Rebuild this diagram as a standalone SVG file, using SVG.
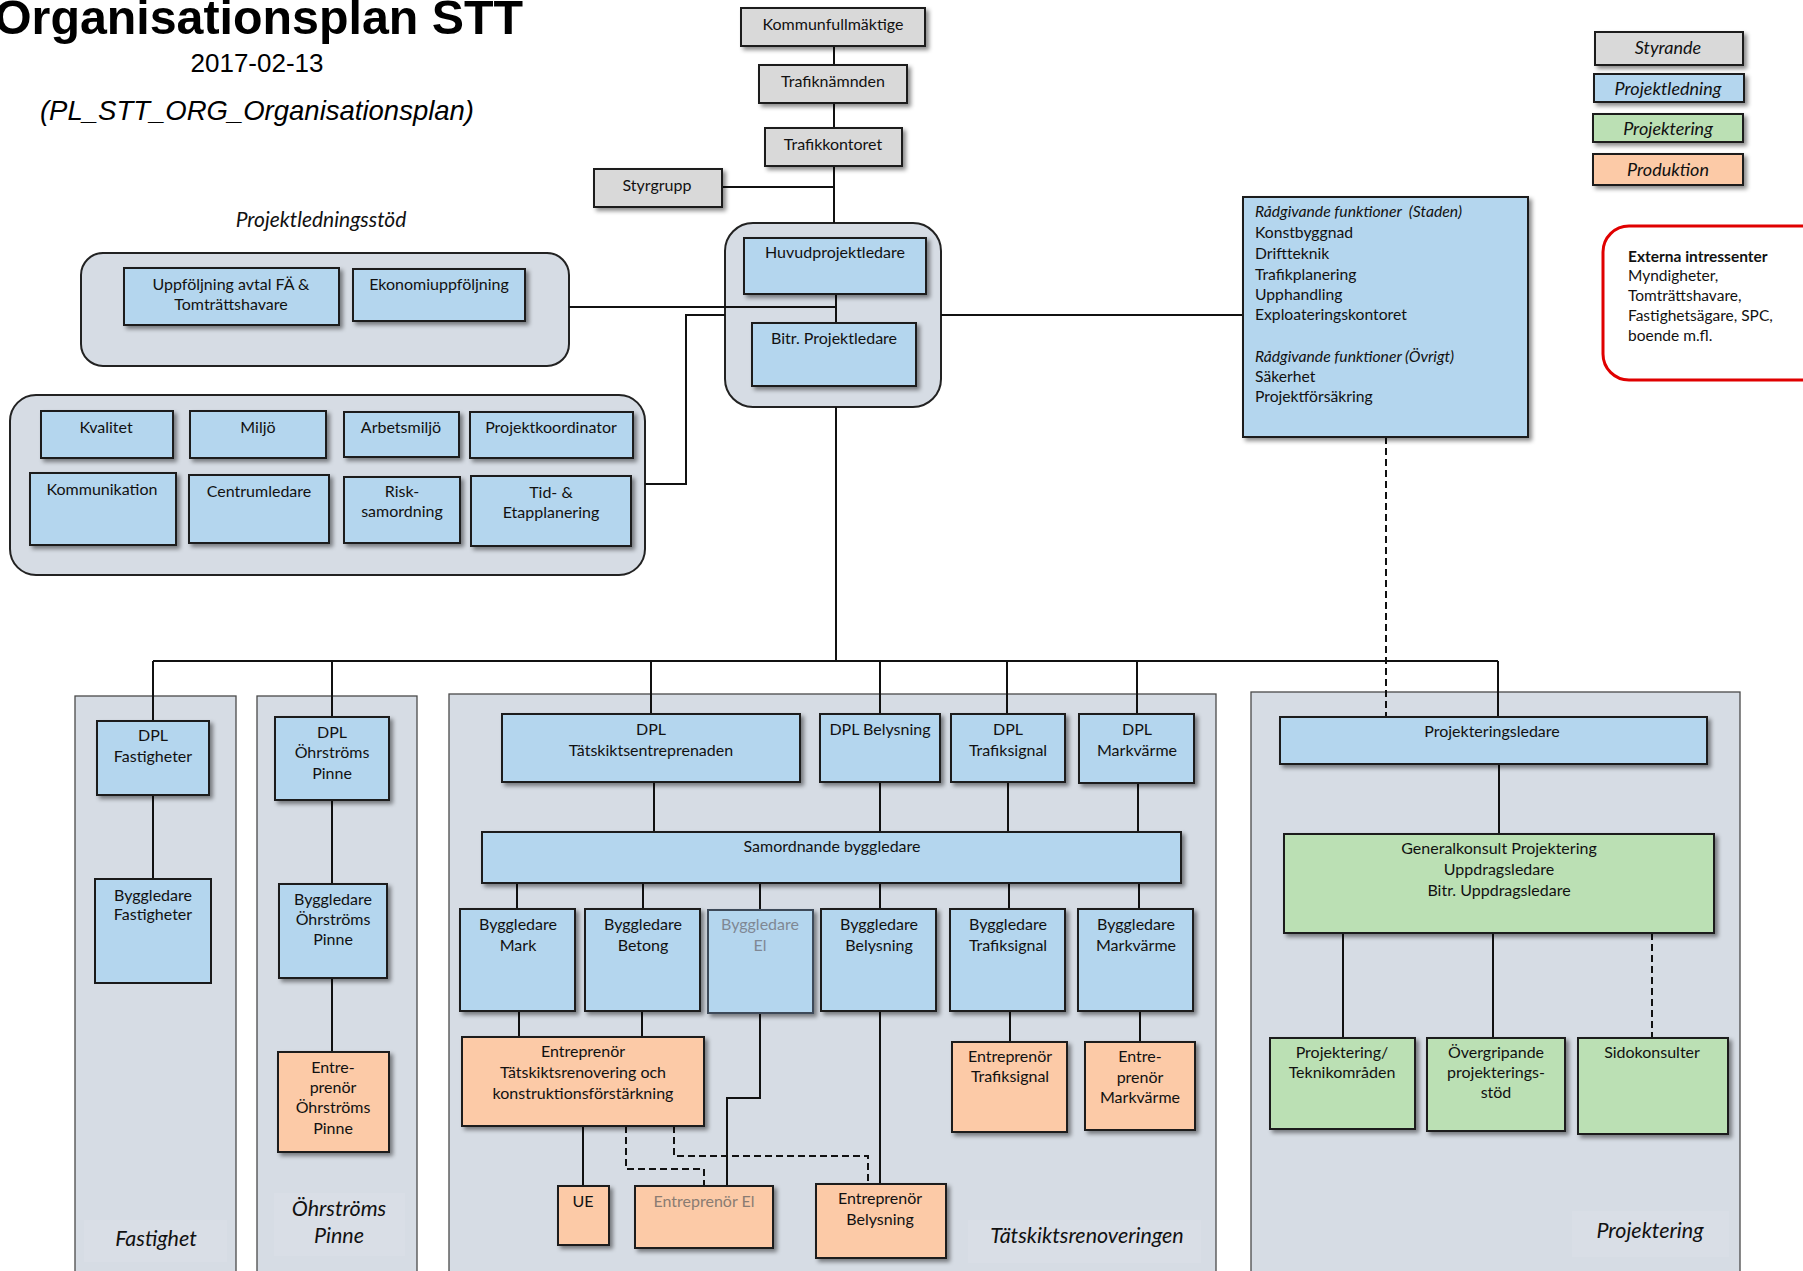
<svg xmlns="http://www.w3.org/2000/svg" width="1803" height="1271" viewBox="0 0 1803 1271">
<defs>
<filter id="sh" x="-10%" y="-10%" width="130%" height="140%">
<feDropShadow dx="3" dy="3" stdDeviation="2" flood-color="#000" flood-opacity="0.45"/>
</filter>
<style>
.g{fill:#d9d9d9}
.b{fill:#b4d6ee}
.gr{fill:#bbe0b4}
.o{fill:#fccaa7}
.box{stroke:#1a1a1a;stroke-width:2;filter:url(#sh)}
.panel{fill:#d6dce4;stroke:#4a4a4a;stroke-width:1.3}
.grp{fill:#d6dce4;stroke:#222;stroke-width:2}
.lbg{fill:#d9dee6}
.t{font-family:Lato,'Open Sans',sans-serif;font-size:16px;fill:#111;text-anchor:middle}
.tl{font-family:Lato,'Open Sans',sans-serif;font-size:15.7px;fill:#111}
.big{font-size:16px}
.i{font-style:italic}
.pl{font-family:Lato,'Open Sans',sans-serif;font-size:21.5px;font-style:italic;fill:#111;text-anchor:middle}
.fade{fill:#7f8894}
.c{stroke:#111;stroke-width:2;fill:none}
.d{stroke-dasharray:7 4}
</style>
</defs>

<g id="title">
<text x="-6" y="34" font-family="'Liberation Sans',Arial,sans-serif" font-weight="bold" font-size="48" textLength="529" lengthAdjust="spacingAndGlyphs" fill="#000">Organisationsplan STT</text>
<text x="257" y="72" font-family="'Liberation Sans',Arial,sans-serif" font-size="26" text-anchor="middle" fill="#000">2017-02-13</text>
<text x="257" y="120" font-family="'Liberation Sans',Arial,sans-serif" font-size="27.5" font-style="italic" text-anchor="middle" fill="#000">(PL_STT_ORG_Organisationsplan)</text>
</g>

<!-- panels -->
<g id="panel-fastighet">
<rect class="panel" x="75" y="696" width="161" height="600"/>
<rect class="lbg" x="84" y="1220" width="143" height="42"/>
<text class="pl" x="156" y="1246">Fastighet</text>
</g>
<g id="panel-ohrstroms">
<rect class="panel" x="257" y="696" width="160" height="600"/>
<rect class="lbg" x="274" y="1193" width="131" height="63"/>
<text class="pl" x="339" y="1216">Öhrströms</text>
<text class="pl" x="339" y="1243">Pinne</text>
</g>
<g id="panel-tatskikt">
<rect class="panel" x="449" y="694" width="767" height="600"/>
<rect class="lbg" x="968" y="1220" width="233" height="43"/>
<text class="pl" x="1087" y="1243">Tätskiktsrenoveringen</text>
</g>
<g id="panel-projektering">
<rect class="panel" x="1251" y="692" width="489" height="600"/>
<rect class="lbg" x="1572" y="1211" width="157" height="46"/>
<text class="pl" x="1650" y="1238">Projektering</text>
</g>

<!-- group containers -->
<g id="grp-projektledningsstod">
<text class="pl" x="321" y="227" style="font-size:21px">Projektledningsstöd</text>
<rect class="grp" x="81" y="253" width="488" height="113" rx="22"/>
</g>
<g id="grp-stod2">
<rect class="grp" x="10" y="395" width="635" height="180" rx="26"/>
</g>
<g id="grp-ledning">
<rect class="grp" x="725" y="223" width="216" height="184" rx="28"/>
</g>

<!-- connectors -->
<g id="connectors">
<path class="c" d="M834 46V65M834 103V128M834 166V223M722 187H834"/>
<path class="c" d="M836 294V323M569 307H836M645 484H686V315H725M941 315H1243"/>
<path class="c" d="M836 407V661M153 661H1498"/>
<path class="c d" d="M1386 437V717"/>
<path class="c" d="M153 661V721M153 795V879"/>
<path class="c" d="M332 661V717M332 800V884M332 978V1052"/>
<path class="c" d="M651 661V714M880 661V714M1007 661V714M1137 661V714"/>
<path class="c" d="M654 782V832M880 782V832M1008 782V832M1138 783V832"/>
<path class="c" d="M517 883V909M643 883V909M760 883V910M880 883V909M1009 883V909M1139 883V909"/>
<path class="c" d="M519 1011V1037M642 1011V1037M583 1126V1186"/>
<path class="c" d="M760 1013V1098H727V1186"/>
<path class="c" d="M880 1011V1184M1010 1011V1042M1140 1011V1042"/>
<path class="c d" d="M626 1126V1169H704V1186M674 1126V1156H868V1184"/>
<path class="c" d="M1498 661V717M1499 764V834M1343 933V1038M1493 933V1038"/>
<path class="c d" d="M1652 933V1038"/>
</g>

<!-- Styrande -->
<g id="n-kommunfullmaktige"><rect class="box g" x="741" y="8" width="184" height="38"/><text class="t big" x="833" y="30">Kommunfullmäktige</text></g>
<g id="n-trafiknamnden"><rect class="box g" x="759" y="65" width="148" height="38"/><text class="t big" x="833" y="87">Trafiknämnden</text></g>
<g id="n-trafikkontoret"><rect class="box g" x="765" y="128" width="137" height="38"/><text class="t big" x="833" y="150">Trafikkontoret</text></g>
<g id="n-styrgrupp"><rect class="box g" x="594" y="169" width="128" height="38"/><text class="t big" x="657" y="191">Styrgrupp</text></g>

<g id="n-huvudprojektledare"><rect class="box b" x="744" y="238" width="182" height="56"/><text class="t big" x="835" y="258">Huvudprojektledare</text></g>
<g id="n-bitr-projektledare"><rect class="box b" x="752" y="323" width="164" height="63"/><text class="t big" x="834" y="344">Bitr. Projektledare</text></g>

<g id="n-uppfoljning"><rect class="box b" x="124" y="268" width="215" height="57"/><text class="t" x="231" y="290">Uppföljning avtal FÄ &amp;</text><text class="t" x="231" y="310">Tomträttshavare</text></g>
<g id="n-ekonomi"><rect class="box b" x="353" y="269" width="172" height="52"/><text class="t" x="439" y="290">Ekonomiuppföljning</text></g>

<g id="n-kvalitet"><rect class="box b" x="41" y="411" width="132" height="47"/><text class="t" x="106" y="433">Kvalitet</text></g>
<g id="n-miljo"><rect class="box b" x="190" y="411" width="136" height="47"/><text class="t" x="258" y="433">Miljö</text></g>
<g id="n-arbetsmiljo"><rect class="box b" x="344" y="412" width="115" height="45"/><text class="t" x="401" y="433">Arbetsmiljö</text></g>
<g id="n-projektkoordinator"><rect class="box b" x="470" y="412" width="163" height="46"/><text class="t" x="551" y="433">Projektkoordinator</text></g>
<g id="n-kommunikation"><rect class="box b" x="30" y="473" width="146" height="72"/><text class="t" x="102" y="495">Kommunikation</text></g>
<g id="n-centrumledare"><rect class="box b" x="189" y="475" width="140" height="68"/><text class="t" x="259" y="497">Centrumledare</text></g>
<g id="n-risk"><rect class="box b" x="344" y="477" width="116" height="66"/><text class="t" x="402" y="497">Risk-</text><text class="t" x="402" y="517">samordning</text></g>
<g id="n-tid"><rect class="box b" x="471" y="476" width="160" height="70"/><text class="t" x="551" y="498">Tid- &amp;</text><text class="t" x="551" y="518">Etapplanering</text></g>

<g id="n-radgivande"><rect class="box b" x="1243" y="197" width="285" height="240"/>
<text class="tl i" x="1255" y="217" style="white-space:pre">Rådgivande funktioner  (Staden)</text>
<text class="tl" x="1255" y="238">Konstbyggnad</text>
<text class="tl" x="1255" y="259">Driftteknik</text>
<text class="tl" x="1255" y="280">Trafikplanering</text>
<text class="tl" x="1255" y="300">Upphandling</text>
<text class="tl" x="1255" y="320">Exploateringskontoret</text>
<text class="tl i" x="1255" y="362">Rådgivande funktioner (Övrigt)</text>
<text class="tl" x="1255" y="382">Säkerhet</text>
<text class="tl" x="1255" y="402">Projektförsäkring</text>
</g>

<!-- legend -->
<g id="legend-styrande"><rect class="box g" x="1595" y="32" width="148" height="33"/><text class="t i" x="1668" y="54" style="font-size:18px">Styrande</text></g>
<g id="legend-projektledning"><rect class="box b" x="1594" y="74" width="150" height="28"/><text class="t i" x="1668" y="95" style="font-size:18px">Projektledning</text></g>
<g id="legend-projektering"><rect class="box gr" x="1593" y="114" width="150" height="28"/><text class="t i" x="1668" y="135" style="font-size:18px">Projektering</text></g>
<g id="legend-produktion"><rect class="box o" x="1593" y="154" width="150" height="31"/><text class="t i" x="1668" y="176" style="font-size:18px">Produktion</text></g>

<g id="n-externa"><rect x="1603" y="226" width="240" height="154" rx="26" fill="#fff" stroke="#e00000" stroke-width="3"/>
<text class="tl" x="1628" y="262" style="font-size:15.5px;font-weight:bold">Externa intressenter</text>
<text class="tl" x="1628" y="281" style="font-size:15.5px">Myndigheter,</text>
<text class="tl" x="1628" y="301" style="font-size:15.5px">Tomträttshavare,</text>
<text class="tl" x="1628" y="321" style="font-size:15.5px">Fastighetsägare, SPC,</text>
<text class="tl" x="1628" y="341" style="font-size:15.5px">boende m.fl.</text>
</g>

<!-- Fastighet -->
<g id="n-dpl-fastigheter"><rect class="box b" x="97" y="721" width="112" height="74"/><text class="t" x="153" y="741">DPL</text><text class="t" x="153" y="762">Fastigheter</text></g>
<g id="n-bl-fastigheter"><rect class="b" stroke="#1a1a1a" stroke-width="2" x="95" y="879" width="116" height="104"/><text class="t" x="153" y="901">Byggledare</text><text class="t" x="153" y="920">Fastigheter</text></g>

<!-- Öhrströms -->
<g id="n-dpl-ohrstroms"><rect class="box b" x="275" y="717" width="114" height="83"/><text class="t" x="332" y="738">DPL</text><text class="t" x="332" y="758">Öhrströms</text><text class="t" x="332" y="779">Pinne</text></g>
<g id="n-bl-ohrstroms"><rect class="box b" x="279" y="884" width="108" height="94"/><text class="t" x="333" y="905">Byggledare</text><text class="t" x="333" y="925">Öhrströms</text><text class="t" x="333" y="945">Pinne</text></g>
<g id="n-ent-ohrstroms"><rect class="box o" x="278" y="1052" width="111" height="100"/><text class="t" x="333" y="1073">Entre-</text><text class="t" x="333" y="1093">prenör</text><text class="t" x="333" y="1113">Öhrströms</text><text class="t" x="333" y="1134">Pinne</text></g>

<!-- Tätskikt -->
<g id="n-dpl-tatskikt"><rect class="box b" x="502" y="714" width="298" height="68"/><text class="t" x="651" y="735">DPL</text><text class="t" x="651" y="756">Tätskiktsentreprenaden</text></g>
<g id="n-dpl-belysning"><rect class="box b" x="820" y="714" width="120" height="68"/><text class="t" x="880" y="735">DPL Belysning</text></g>
<g id="n-dpl-trafiksignal"><rect class="box b" x="951" y="714" width="114" height="68"/><text class="t" x="1008" y="735">DPL</text><text class="t" x="1008" y="756">Trafiksignal</text></g>
<g id="n-dpl-markvarme"><rect class="box b" x="1079" y="714" width="115" height="69"/><text class="t" x="1137" y="735">DPL</text><text class="t" x="1137" y="756">Markvärme</text></g>
<g id="n-samordnande"><rect class="box b" x="482" y="832" width="699" height="51"/><text class="t" x="832" y="852">Samordnande byggledare</text></g>

<g id="n-bl-mark"><rect class="box b" x="460" y="909" width="115" height="102"/><text class="t" x="518" y="930">Byggledare</text><text class="t" x="518" y="951">Mark</text></g>
<g id="n-bl-betong"><rect class="box b" x="585" y="909" width="115" height="102"/><text class="t" x="643" y="930">Byggledare</text><text class="t" x="643" y="951">Betong</text></g>
<g id="n-bl-el"><rect class="b" stroke="#3c4a58" stroke-width="2" filter="url(#sh)" x="708" y="910" width="105" height="103"/><text class="t fade" x="760" y="930">Byggledare</text><text class="t fade" x="760" y="951">El</text></g>
<g id="n-bl-belysning"><rect class="box b" x="821" y="909" width="115" height="102"/><text class="t" x="879" y="930">Byggledare</text><text class="t" x="879" y="951">Belysning</text></g>
<g id="n-bl-trafiksignal"><rect class="box b" x="950" y="909" width="115" height="102"/><text class="t" x="1008" y="930">Byggledare</text><text class="t" x="1008" y="951">Trafiksignal</text></g>
<g id="n-bl-markvarme"><rect class="box b" x="1078" y="909" width="115" height="102"/><text class="t" x="1136" y="930">Byggledare</text><text class="t" x="1136" y="951">Markvärme</text></g>

<g id="n-ent-tatskikt"><rect class="box o" x="462" y="1037" width="242" height="89"/><text class="t" x="583" y="1057">Entreprenör</text><text class="t" x="583" y="1078">Tätskiktsrenovering och</text><text class="t" x="583" y="1099">konstruktionsförstärkning</text></g>
<g id="n-ue"><rect class="box o" x="558" y="1186" width="51" height="59"/><text class="t" x="583" y="1207">UE</text></g>
<g id="n-ent-el"><rect class="box o" x="635" y="1186" width="138" height="62"/><text class="t" x="704" y="1207" style="fill:#8a7c72">Entreprenör El</text></g>
<g id="n-ent-belysning"><rect class="box o" x="816" y="1184" width="130" height="74"/><text class="t" x="880" y="1204">Entreprenör</text><text class="t" x="880" y="1225">Belysning</text></g>
<g id="n-ent-trafiksignal"><rect class="box o" x="952" y="1042" width="115" height="90"/><text class="t" x="1010" y="1062">Entreprenör</text><text class="t" x="1010" y="1082">Trafiksignal</text></g>
<g id="n-ent-markvarme"><rect class="box o" x="1085" y="1042" width="110" height="88"/><text class="t" x="1140" y="1062">Entre-</text><text class="t" x="1140" y="1083">prenör</text><text class="t" x="1140" y="1103">Markvärme</text></g>

<!-- Projektering -->
<g id="n-projekteringsledare"><rect class="box b" x="1280" y="717" width="427" height="47"/><text class="t" x="1492" y="737">Projekteringsledare</text></g>
<g id="n-generalkonsult"><rect class="box gr" x="1284" y="834" width="430" height="99"/><text class="t" x="1499" y="854">Generalkonsult Projektering</text><text class="t" x="1499" y="875">Uppdragsledare</text><text class="t" x="1499" y="896">Bitr. Uppdragsledare</text></g>
<g id="n-teknikomraden"><rect class="box gr" x="1270" y="1038" width="145" height="91"/><text class="t" x="1342" y="1058">Projektering/</text><text class="t" x="1342" y="1078">Teknikområden</text></g>
<g id="n-overgripande"><rect class="box gr" x="1427" y="1038" width="138" height="93"/><text class="t" x="1496" y="1058">Övergripande</text><text class="t" x="1496" y="1078">projekterings-</text><text class="t" x="1496" y="1098">stöd</text></g>
<g id="n-sidokonsulter"><rect class="box gr" x="1578" y="1038" width="150" height="96"/><text class="t" x="1652" y="1058">Sidokonsulter</text></g>
</svg>
